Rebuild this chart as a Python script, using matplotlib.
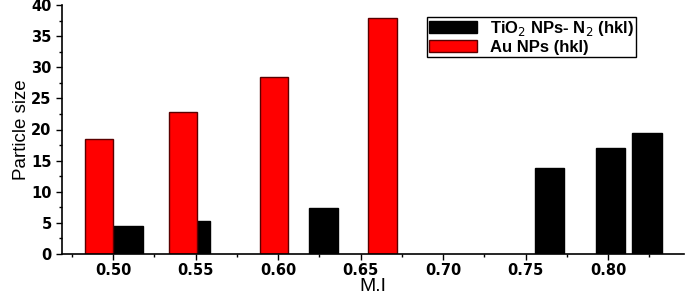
import matplotlib.pyplot as plt
from matplotlib.ticker import MultipleLocator

# bar centres on the M.I axis, heights and widths
au_x = [0.4915, 0.5424, 0.5976, 0.6633]
au_size = [18.5, 22.8, 28.5, 37.9]
au_width = [0.0173, 0.0173, 0.0173, 0.0173]

tio2_x = [0.5091, 0.5548, 0.6276, 0.7645, 0.8015, 0.8236]
tio2_size = [4.5, 5.3, 7.4, 13.8, 17.0, 19.5]
tio2_width = [0.0180, 0.0079, 0.0176, 0.0176, 0.0176, 0.0180]

xticks = [0.50, 0.55, 0.60, 0.65, 0.70, 0.75, 0.80]
xticklabels = ["0.50", "0.55", "0.60", "0.65", "0.70", "0.75", "0.80"]

plt.rcParams['font.family'] = ['Liberation Sans', 'DejaVu Sans']

fig = plt.figure(figsize=(6.85, 2.96), dpi=100)
ax = fig.add_axes([0.0905, 0.142, 0.908, 0.841])

ax.bar(tio2_x, tio2_size, width=tio2_width, color="black", edgecolor="black",
       linewidth=1, label=r"TiO$_2$ NPs- N$_2$ (hkl)", zorder=2)
ax.bar(au_x, au_size, width=au_width, color="#ff0000", edgecolor="#5a0000",
       linewidth=1, label="Au NPs (hkl)", zorder=2)

ax.set_xlim(0.469, 0.846)
ax.set_ylim(0, 40)
ax.set_xticks(xticks)
ax.set_xticklabels(xticklabels)
ax.xaxis.set_minor_locator(MultipleLocator(0.025))
ax.yaxis.set_major_locator(MultipleLocator(5))
ax.yaxis.set_minor_locator(MultipleLocator(2.5))
for lab in ax.get_xticklabels() + ax.get_yticklabels():
    lab.set_family("DejaVu Sans")
    lab.set_fontweight("bold")
    lab.set_fontsize(10.5)

ax.spines['top'].set_visible(False)
ax.spines['right'].set_visible(False)
ax.spines['left'].set_linewidth(1.2)
ax.spines['bottom'].set_linewidth(1.2)
ax.tick_params(which="major", direction="out", length=4, width=1)
ax.tick_params(which="minor", direction="out", length=2.5, width=1)
ax.tick_params(axis="x", which="major", pad=2.5)

ax.set_ylabel("Particle size", fontsize=13.5, labelpad=1)
ax.set_xlabel("M.I", fontsize=14, labelpad=0)

leg = ax.legend(loc="upper left", bbox_to_anchor=(0.587, 0.952), borderaxespad=0,
                fancybox=False, frameon=True, edgecolor="black", framealpha=1,
                prop={"weight": "bold", "size": 12}, handlelength=2.9,
                handleheight=0.7, borderpad=0.1, labelspacing=0.15, handletextpad=0.8)
leg.get_frame().set_linewidth(1)

fig.savefig("out.png", dpi=100)
